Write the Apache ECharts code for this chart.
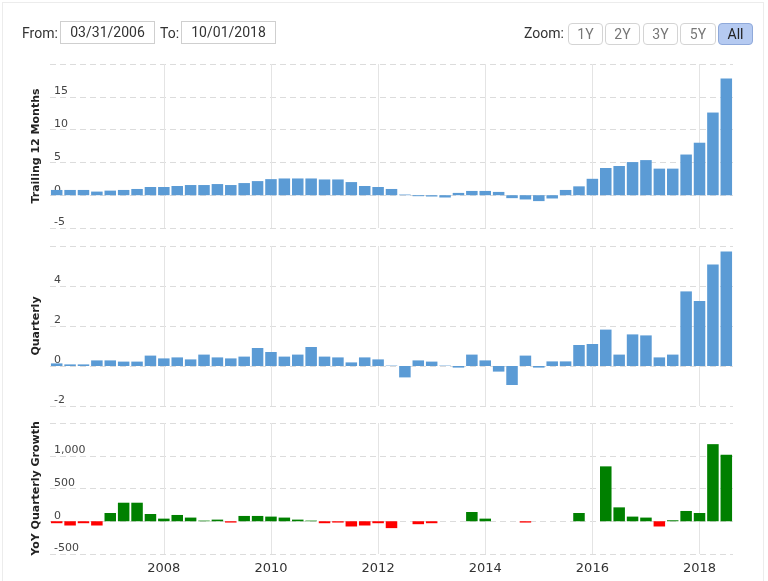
<!DOCTYPE html>
<html>
<head>
<meta charset="utf-8">
<script src="https://cdn.jsdelivr.net/npm/echarts@6/dist/echarts.min.js"></script>
<style>
  html, body { margin: 0; padding: 0; background: #fff; }
  #wrap { position: relative; width: 768px; height: 581px; overflow: hidden; font-family: Roboto, sans-serif; }
  #frame { position: absolute; left: 2px; top: 2px; width: 762px; height: 620px; border: 1px solid #ececec; box-sizing: border-box; }
  #chart { position: absolute; left: 0; top: 0; width: 768px; height: 581px; }
  .txt { position: absolute; font-size: 14px; color: #333; line-height: 22px; top: 22px; }
  .box { position: absolute; top: 21px; height: 23px; border: 1px solid #cfcfcf; box-sizing: border-box; font-size: 14px; color: #333; line-height: 21px; text-align: center; background: #fff; }
  .btn { position: absolute; top: 23px; height: 22px; border: 1px solid #d4d4d4; border-radius: 4px; box-sizing: border-box; font-size: 14px; color: #777; line-height: 20px; text-align: center; background: #fff; }
  .btn.sel { background: #b5caf1; border-color: #8fa9da; color: #222; }
</style>
</head>
<body>
<div id="wrap">
  <div id="frame"></div>
  <div id="chart"></div>
  <div class="txt" style="left:22px;">From:</div>
  <div class="box" style="left:60px;width:95px;">03/31/2006</div>
  <div class="txt" style="left:160px;">To:</div>
  <div class="box" style="left:181px;width:95px;">10/01/2018</div>
  <div class="txt" style="left:524px;">Zoom:</div>
  <div class="btn" style="left:568px;width:35px;">1Y</div>
  <div class="btn" style="left:605px;width:35px;">2Y</div>
  <div class="btn" style="left:643px;width:35px;">3Y</div>
  <div class="btn" style="left:680px;width:36px;">5Y</div>
  <div class="btn sel" style="left:718px;width:35px;">All</div>
</div>
<script>
const quarters = [
  '2005-12-31','2006-03-31','2006-06-30','2006-09-30','2006-12-31',
  '2007-03-31','2007-06-30','2007-09-30','2007-12-31',
  '2008-03-31','2008-06-30','2008-09-30','2008-12-31',
  '2009-03-31','2009-06-30','2009-09-30','2009-12-31',
  '2010-03-31','2010-06-30','2010-09-30','2010-12-31',
  '2011-03-31','2011-06-30','2011-09-30','2011-12-31',
  '2012-03-31','2012-06-30','2012-09-30','2012-12-31',
  '2013-03-31','2013-06-30','2013-09-30','2013-12-31',
  '2014-03-31','2014-06-30','2014-09-30','2014-12-31',
  '2015-03-31','2015-06-30','2015-09-30','2015-12-31',
  '2016-03-31','2016-06-30','2016-09-30','2016-12-31',
  '2017-03-31','2017-06-30','2017-09-30','2017-12-31',
  '2018-03-31','2018-06-30'
];
const trailing12 = [0.8,0.8,0.8,0.55,0.7,0.8,0.95,1.25,1.25,1.4,1.55,1.55,1.7,1.55,1.85,2.15,2.45,2.55,2.55,2.55,2.4,2.4,2.0,1.4,1.25,0.95,0.1,-0.15,-0.2,-0.35,0.35,0.65,0.65,0.5,-0.45,-0.65,-0.9,-0.5,0.8,1.35,2.5,4.15,4.45,5.05,5.35,4.05,4.05,6.2,8.0,12.6,17.8];
const quarterly = [0.13,0.08,0.08,0.28,0.28,0.22,0.22,0.52,0.38,0.43,0.33,0.57,0.43,0.38,0.47,0.9,0.7,0.47,0.57,0.95,0.47,0.43,0.18,0.43,0.33,0.02,-0.57,0.28,0.22,0.02,-0.08,0.57,0.28,-0.28,-0.95,0.52,-0.08,0.23,0.23,1.05,1.1,1.82,0.57,1.58,1.53,0.43,0.57,3.73,3.25,5.08,5.73];
const yoyGrowth = [-30,-65,-30,-65,126,283,283,111,40,96,56,10,25,-20,81,81,71,56,25,10,-30,-20,-80,-65,-30,-105,null,-45,-30,null,null,141,40,null,null,-20,null,null,null,126,null,838,212,71,56,-80,15,157,126,1177,1015];
const yearTickDates = ['2007-12-31','2009-12-31','2011-12-31','2013-12-31','2015-12-31','2017-12-31'];
const yearLabels = ['2008','2010','2012','2014','2016','2018'];
const panelNames = ['Trailing 12 Months','Quarterly','YoY Quarterly Growth'];

const BLUE = '#5b9bd5', GREEN = '#008000', RED = '#ff0000';
const FONT = 'DejaVu Sans';

const chart = echarts.init(document.getElementById('chart'), null, {renderer: 'canvas'});

const grids = [
  {left: 50, right: 35, top: 64, height: 164},
  {left: 50, right: 35, top: 246, height: 160},
  {left: 50, right: 35, top: 423, height: 131}
].map(g => Object.assign({outerBoundsMode: 'none', containLabel: false}, g));

const xAxes = [0, 1, 2].map(i => ({
  type: 'category', gridIndex: i, data: quarters, boundaryGap: true,
  axisLine: {show: false}, axisTick: {show: false}, splitLine: {show: false},
  axisLabel: i === 2 ? {
    show: true,
    interval: (idx, val) => yearTickDates.indexOf(val) >= 0,
    formatter: val => { const k = yearTickDates.indexOf(val); return k >= 0 ? yearLabels[k] : ''; },
    color: '#333', fontSize: 13, fontFamily: FONT, margin: 8
  } : {show: false}
}));

function yAxis(i, min, max, interval, fmt) {
  return {
    type: 'value', gridIndex: i, min: min, max: max, interval: interval,
    name: panelNames[i], nameLocation: 'middle', nameGap: 8,
    nameTextStyle: {fontFamily: FONT, fontWeight: 'bold', fontSize: 11, color: '#222'},
    axisLine: {show: false}, axisTick: {show: false},
    splitLine: {show: true, lineStyle: {type: [6, 4], color: '#dcdcdc', width: 1}},
    axisLabel: {inside: true, margin: 4, verticalAlign: 'bottom', showMaxLabel: false,
      color: '#444', fontSize: 11, fontFamily: FONT, formatter: fmt}
  };
}
const yAxes = [
  yAxis(0, -5, 20, 5, v => String(v)),
  yAxis(1, -2, 6, 2, v => String(v)),
  yAxis(2, -500, 1500, 500, v => v.toLocaleString('en-US'))
];

function yearLines(i) {
  return {
    type: 'line', xAxisIndex: i, yAxisIndex: i, data: [], silent: true,
    markLine: {
      silent: true, z: 1, symbol: ['none', 'none'], label: {show: false},
      lineStyle: {color: '#e4e4e4', type: 'solid', width: 1},
      emphasis: {disabled: true},
      data: yearTickDates.map(d => ({xAxis: d}))
    }
  };
}
const barBase = {type: 'bar', barCategoryGap: '14%', z: 2, animation: false};

chart.setOption({
  animation: false,
  grid: grids,
  xAxis: xAxes,
  yAxis: yAxes,
  series: [
    yearLines(0), yearLines(1), yearLines(2),
    Object.assign({}, barBase, {xAxisIndex: 0, yAxisIndex: 0, data: trailing12,
      itemStyle: {color: BLUE}}),
    Object.assign({}, barBase, {xAxisIndex: 1, yAxisIndex: 1, data: quarterly,
      itemStyle: {color: BLUE}}),
    Object.assign({}, barBase, {xAxisIndex: 2, yAxisIndex: 2, data: yoyGrowth,
      itemStyle: {color: p => (p.value >= 0 ? GREEN : RED)}})
  ]
});
</script>
</body>
</html>
